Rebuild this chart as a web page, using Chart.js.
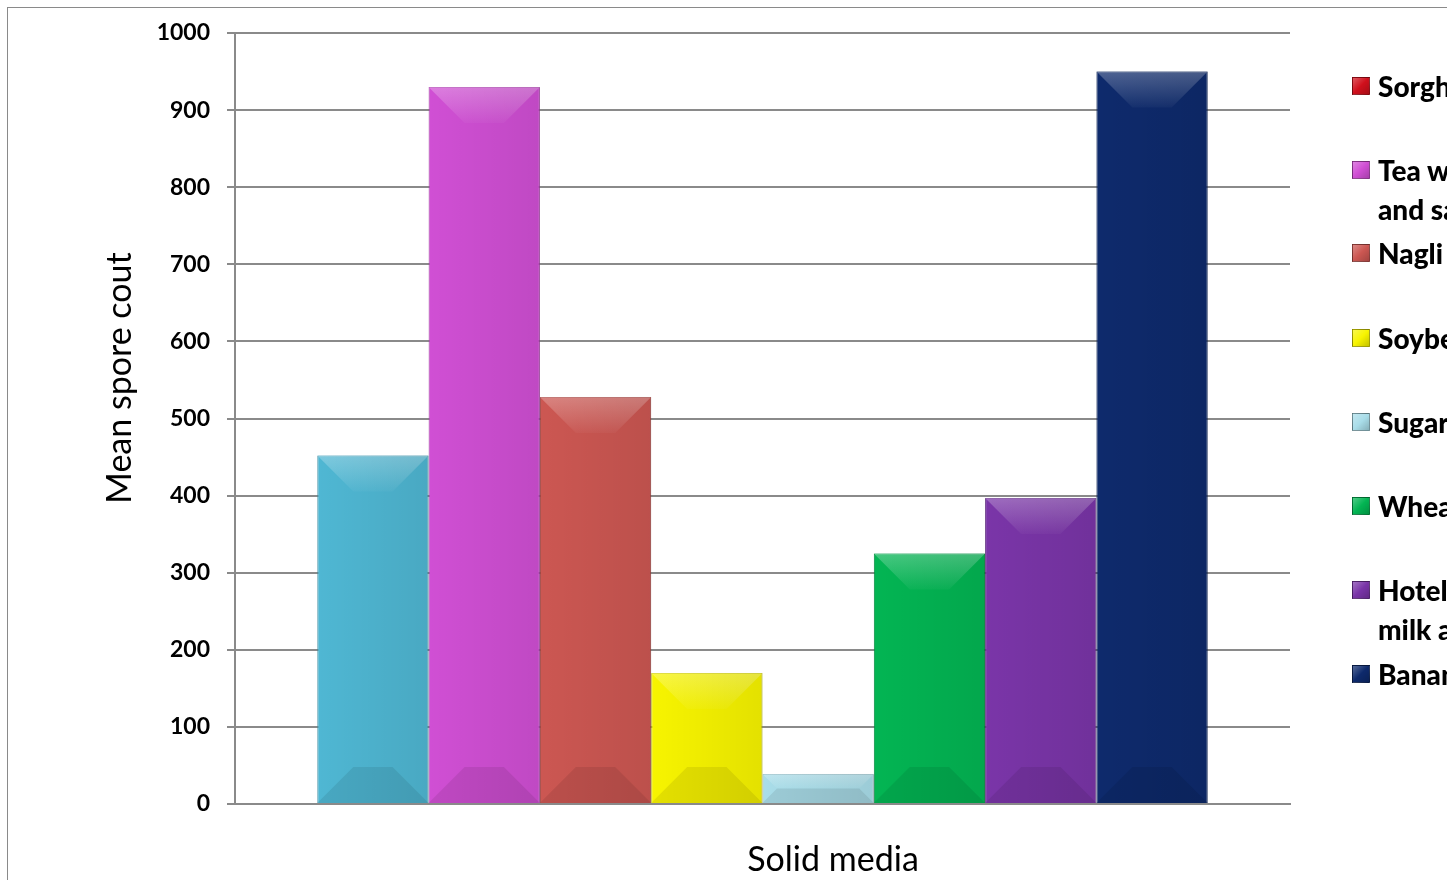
<!DOCTYPE html>
<html>
<head>
<meta charset="utf-8">
<script src="https://cdn.jsdelivr.net/npm/chart.js@4.4.1/dist/chart.umd.min.js"></script>
<style>
  html, body { margin: 0; padding: 0; width: 1447px; height: 880px; overflow: hidden; background: #fff; }
  #wrap { position: absolute; left: 0; top: 0; width: 1447px; height: 880px; }
  #frame { position: absolute; left: 7px; top: 7px; width: 1500px; height: 900px; border: 1px solid #8a8a8a; box-sizing: border-box; pointer-events: none; }
  #legend { position: absolute; left: 1352px; top: 0; width: 400px; font-family: Lato, "Open Sans", sans-serif; font-weight: 900; font-size: 28px; color: #000; }
  .item { position: absolute; left: 0; white-space: nowrap; line-height: 39px; }
  .box { position: absolute; left: 0; width: 18px; height: 18px; box-sizing: border-box; border: 1px solid rgba(0,0,0,0.35); }
  .txt { position: absolute; left: 26px; top: 0; }
  .axtitle { position: absolute; font-family: Lato, "Open Sans", sans-serif; font-size: 34px; color: #000; white-space: nowrap; line-height: 40px; }
  #ytitle { left: 118px; top: 378px; transform: translate(-50%, -50%) rotate(-90deg); }
  #xtitle { left: 833px; top: 858px; transform: translate(-50%, -50%); }
</style>
</head>
<body>
<div id="wrap">
  <canvas id="c" width="1447" height="880"></canvas>
  <div id="frame"></div>
  <div id="ytitle" class="axtitle"></div>
  <div id="xtitle" class="axtitle"></div>
  <div id="legend"></div>
</div>
<script>
// ---- data ----
const categories = ['Solid media'];
const xAxisTitle = 'Solid media';
const yAxisTitle = 'Mean spore cout';
const seriesNames = [
  ['Sorghum'],
  ['Tea waste', 'and sawdust'],
  ['Nagli'],
  ['Soybean'],
  ['Sugarcane'],
  ['Wheat'],
  ['Hotel waste', 'milk and rice'],
  ['Banana']
];
const seriesValues = [452, 930, 528, 170, 39, 325, 397, 950];
const barColors = ['#4fb7d3', '#d04fd4', '#cc5752', '#f7f400', '#a9dde9', '#03b553', '#7a35a8', '#0e2a6c'];
const legendColors = ['#d0101c', '#d04fd4', '#cc5752', '#f7f400', '#a9dde9', '#03b553', '#7a35a8', '#0e2a6c'];
const yTicks = [0, 100, 200, 300, 400, 500, 600, 700, 800, 900, 1000];
const legendCenters = [86, 170, 253, 338, 422, 506, 590, 674];

function shade(hex, amt) {
  const n = parseInt(hex.slice(1), 16);
  let r = (n >> 16) & 255, g = (n >> 8) & 255, b = n & 255;
  const f = v => Math.max(0, Math.min(255, Math.round(amt >= 0 ? v + (255 - v) * amt : v * (1 + amt))));
  return `rgb(${f(r)},${f(g)},${f(b)})`;
}

const datasets = seriesNames.map((n, i) => ({
  label: n.join(' '),
  data: [seriesValues[i]],
  backgroundColor: barColors[i],
  borderColor: shade(barColors[i], -0.25),
  borderWidth: 1,
  barPercentage: 1,
  categoryPercentage: 0.844
}));

const bevel = {
  id: 'bevel',
  afterDatasetsDraw(chart) {
    const ctx = chart.ctx;
    chart.data.datasets.forEach((ds, i) => {
      const el = chart.getDatasetMeta(i).data[0];
      if (!el) return;
      const w = el.width, x0 = el.x - w / 2, x1 = el.x + w / 2, top = el.y, bot = el.base;
      const h = bot - top;
      const d = Math.min(w * 0.35, h / 2, 36);
      const col = barColors[i];
      ctx.save();
      let g = ctx.createLinearGradient(0, top, 0, top + d);
      g.addColorStop(0, shade(col, 0.45));
      g.addColorStop(1, shade(col, 0.05));
      ctx.fillStyle = g;
      ctx.globalAlpha = 0.6;
      ctx.beginPath();
      ctx.moveTo(x0, top); ctx.lineTo(x1, top); ctx.lineTo(x1 - d, top + d); ctx.lineTo(x0 + d, top + d); ctx.closePath();
      ctx.fill();
      ctx.fillStyle = shade(col, -0.18);
      ctx.globalAlpha = 0.45;
      ctx.beginPath();
      ctx.moveTo(x0, bot); ctx.lineTo(x1, bot); ctx.lineTo(x1 - d, bot - d); ctx.lineTo(x0 + d, bot - d); ctx.closePath();
      ctx.fill();
      g = ctx.createLinearGradient(x0, 0, x1, 0);
      g.addColorStop(0, 'rgba(0,0,0,0)');
      g.addColorStop(1, 'rgba(0,0,0,0.08)');
      ctx.globalAlpha = 1;
      ctx.fillStyle = g;
      ctx.fillRect(x0, top, w, h);
      ctx.restore();
    });
  }
};

new Chart(document.getElementById('c'), {
  type: 'bar',
  data: { labels: categories, datasets },
  plugins: [bevel],
  options: {
    responsive: false,
    animation: false,
    layout: { padding: { left: 100, right: 157, top: 33, bottom: 76 } },
    plugins: { legend: { display: false }, tooltip: { enabled: false } },
    scales: {
      x: {
        grid: { display: false, drawTicks: false },
        border: { color: '#8a8a8a', width: 2 },
        ticks: { display: false }
      },
      y: {
        min: 0, max: 1000,
        afterBuildTicks(scale) { scale.ticks = yTicks.map(v => ({ value: v })); },
        afterFit(scale) { scale.width = 135; },
        grid: { color: '#8a8a8a', lineWidth: 2, tickLength: 8, drawTicks: true },
        border: { color: '#8a8a8a', width: 2 },
        ticks: { color: '#000', padding: 17, callback: v => String(v),
          font: { family: 'Lato, "Open Sans", sans-serif', size: 23, weight: 'bold' } }
      }
    }
  }
});

document.getElementById('xtitle').textContent = xAxisTitle;
document.getElementById('ytitle').textContent = yAxisTitle;

const leg = document.getElementById('legend');
seriesNames.forEach((lines, i) => {
  const item = document.createElement('div');
  item.className = 'item';
  item.style.top = (legendCenters[i] - 19.5) + 'px';
  const box = document.createElement('div');
  box.className = 'box';
  box.style.top = '10px';
  box.style.background = `linear-gradient(135deg, ${shade(legendColors[i], 0.3)}, ${legendColors[i]} 50%, ${shade(legendColors[i], -0.2)})`;
  const t = document.createElement('div');
  t.className = 'txt';
  t.innerHTML = lines.join('<br>');
  item.appendChild(box);
  item.appendChild(t);
  leg.appendChild(item);
});
</script>
</body>
</html>
